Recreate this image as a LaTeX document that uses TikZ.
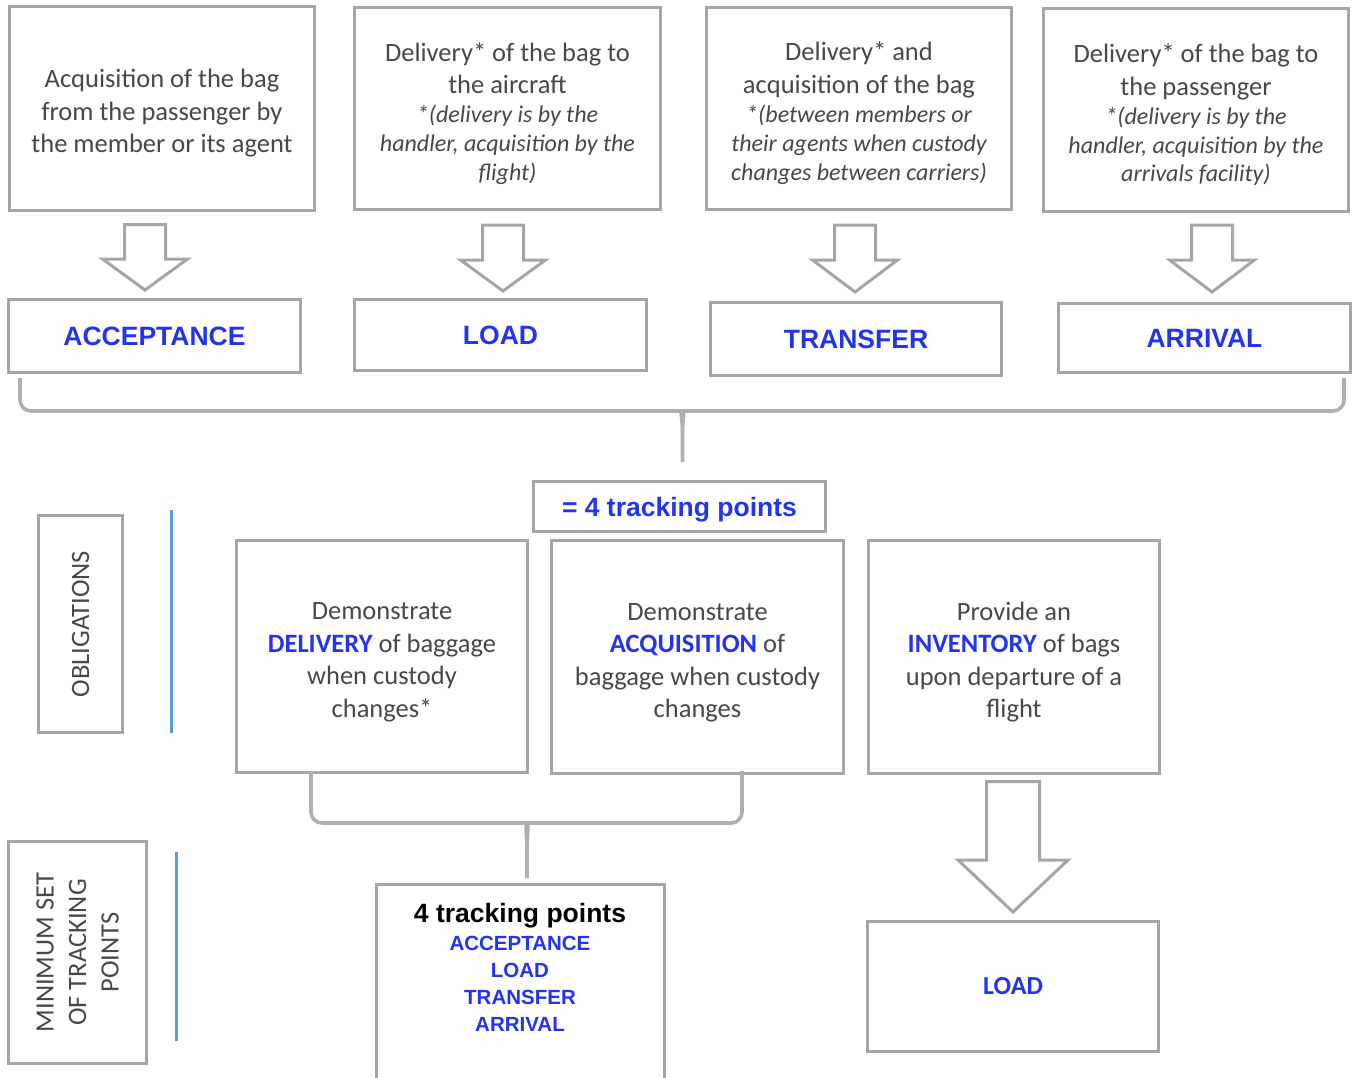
\documentclass[tikz,border=0pt]{standalone}
\usepackage{fontspec}
\setmainfont{Carlito}
\newfontfamily\arialfont{Liberation Sans}
\definecolor{bordergray}{RGB}{166,166,166}
\definecolor{bracegray}{RGB}{176,176,176}
\definecolor{txtgray}{RGB}{72,72,72}
\definecolor{tblue}{RGB}{35,52,240}
\definecolor{lineblue}{RGB}{91,155,213}
\newcommand{\blkarrow}[6]{\draw[barrow] (#1-#5,#2) -- (#1+#5,#2) -- (#1+#5,#3) -- (#1+#6,#3) -- (#1,#4) -- (#1-#6,#3) -- (#1-#5,#3) -- cycle;}
\newcommand{\itl}[1]{{\itshape\fontsize{24}{29.5}\selectfont #1}}
\newcommand{\bl}[1]{{\bfseries\color{tblue}#1}}
\newcommand{\st}{\rule{0pt}{28.5pt}}
\begin{document}
\begin{tikzpicture}[x=1pt,y=-1pt,
 box/.style={draw=bordergray, line width=3pt, fill=white, inner sep=0pt, outer sep=0pt, align=center, text=txtgray, font=\fontsize{26.5}{32.5}\selectfont},
 lbl/.style={box, text=tblue, text depth=0pt, font=\arialfont\bfseries\fontsize{26.5}{30}\selectfont},
 barrow/.style={draw=bordergray, line width=3pt, fill=white, line join=miter},
 brace/.style={draw=bracegray, line width=3.6pt},
 vline/.style={draw=lineblue, line width=3pt},
]
\useasboundingbox (0,0) rectangle (1356,1077);
\clip (0,0) rectangle (1356,1077);

% top row boxes
\node[box, minimum width=305pt, minimum height=204pt] (b1) at (162,108.5)
  {\st Acquisition of the bag\\from the passenger by\\the member or its agent};
\node[box, minimum width=306pt, minimum height=202pt] (b2) at (507.5,108.5)
  {\st Delivery* of the bag to\\the aircraft\\[-3.5pt]\itl{*(delivery is by the}\\[-3.5pt]\itl{handler, acquisition by the}\\[-4pt]\itl{flight)}};
\node[box, minimum width=305pt, minimum height=202pt] (b3) at (859,108.5)
  {\st Delivery* and\\acquisition of the bag\\[-3pt]\itl{*(between members or}\\[-3.5pt]\itl{their agents when custody}\\[-4pt]\itl{changes between carriers)}};
\node[box, minimum width=305pt, minimum height=203pt] (b4) at (1196,110)
  {\st Delivery* of the bag to\\the passenger\\[-3pt]\itl{*(delivery is by the}\\[-4pt]\itl{handler, acquisition by the}\\[-4pt]\itl{arrivals facility)}};

% block arrows
\blkarrow{145}{224.5}{259}{290}{20.5}{42.5}
\blkarrow{503}{225}{260}{291}{20.5}{42.5}
\blkarrow{855}{225}{260}{292}{20.5}{42.5}
\blkarrow{1212}{225}{260}{292}{20.5}{42.5}

% label boxes
\node[lbl, minimum width=292pt, minimum height=73pt] (acc) at (154.5,336) {ACCEPTANCE};
\node[lbl, minimum width=292pt, minimum height=71pt] (load) at (500.5,335) {LOAD};
\node[lbl, minimum width=291pt, minimum height=73pt] (trans) at (856,339) {TRANSFER};
\node[lbl, minimum width=292pt, minimum height=69pt] (arr) at (1204.5,338) {ARRIVAL};

% top brace
\draw[brace] [rounded corners=11pt] (20,378) |- (671,411) [sharp corners] .. controls (680,411) and (682.5,419) .. (682.5,433) -- (682.5,462);
\draw[brace] [rounded corners=11pt] (1344,378) |- (694,411) [sharp corners] .. controls (685,411) and (682.5,419) .. (682.5,433);

\node[lbl, minimum width=292pt, minimum height=50pt] (four) at (679.5,506.5) {= 4 tracking points};

% side labels
\node[box, rotate=90, minimum width=217pt, minimum height=84pt] (obl) at (80.5,624) {OBLIGATIONS};
\draw[vline] (171,510) -- (171,733);
\node[box, rotate=90, minimum width=222pt, minimum height=138pt] (mins) at (77.5,952.5) {MINIMUM SET\\OF TRACKING\\POINTS};
\draw[vline] (176,852) -- (176,1041);

% middle row
\node[box, minimum width=291pt, minimum height=232pt, font=\fontsize{26.5}{32.5}\selectfont] (dlv) at (382,656.5)
  {\st Demonstrate\\\bl{DELIVERY} of baggage\\when custody\\changes*};
\node[box, minimum width=292pt, minimum height=233pt, font=\fontsize{26.5}{32.5}\selectfont] (acq) at (697.5,657)
  {\st Demonstrate\\\bl{ACQUISITION} of\\baggage when custody\\changes};
\node[box, minimum width=291pt, minimum height=233pt, font=\fontsize{26.5}{32.5}\selectfont] (inv) at (1014,657)
  {\st Provide an\\\bl{INVENTORY} of bags\\upon departure of a\\flight};

% bottom brace
\draw[brace] [rounded corners=11pt] (311,771) |- (516,823) [sharp corners] .. controls (525,823) and (527,834) .. (527,853) -- (527,878);
\draw[brace] [rounded corners=11pt] (742,771) |- (538,823) [sharp corners] .. controls (529,823) and (527,834) .. (527,853);

% bottom tracking box
\node[box, minimum width=288pt, minimum height=220pt, anchor=north] (tpbox) at (520,884.5) {};
\node[anchor=north, align=center, inner sep=0pt, font=\arialfont\bfseries\fontsize{20.5}{27}\selectfont, text=tblue] (tplist) at (520,903)
  {{\color{black}\fontsize{26.5}{27}\selectfont 4 tracking points}\\[1pt]ACCEPTANCE\\LOAD\\TRANSFER\\ARRIVAL};

% inventory arrow and load
\blkarrow{1013}{781.5}{860}{912}{26.5}{55}
\node[box, minimum width=291pt, minimum height=130pt, text=tblue, font=\bfseries\fontsize{26}{30}\selectfont] (load2) at (1013,986.5) {LOAD};
\end{tikzpicture}
\end{document}
